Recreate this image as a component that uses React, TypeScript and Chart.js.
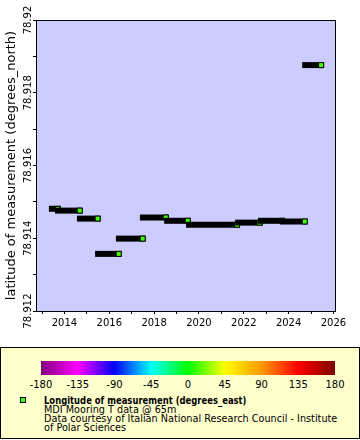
import React, { useEffect, useRef } from "react";
import { Chart, registerables } from "chart.js";

Chart.register(...registerables);

// Deployments: time span (decimal years), latitude, longitude
const deployStart = [2013.44, 2013.71, 2014.69, 2015.5, 2016.43, 2017.5, 2018.58, 2019.56, 2021.75, 2022.77, 2023.75, 2024.74];
const deployEnd = [2013.7, 2014.68, 2015.48, 2016.42, 2017.49, 2018.52, 2019.5, 2021.7, 2022.71, 2023.71, 2024.72, 2025.45];
const deployLat = [78.91481, 78.91476, 78.91454, 78.91357, 78.91399, 78.91457, 78.91448, 78.91437, 78.91443, 78.91448, 78.91446, 78.91876];
const deployLon = [11.92, 11.92, 11.92, 11.92, 11.92, 11.92, 11.92, 11.92, 11.92, 11.92, 11.92, 11.92];

const xTickValues = [2013, 2014, 2015, 2016, 2017, 2018, 2019, 2020, 2021, 2022, 2023, 2024, 2025, 2026];
const yTickValues = [78.912, 78.913, 78.914, 78.915, 78.916, 78.917, 78.918, 78.919, 78.92];
const colorbarTicks = [-180, -135, -90, -45, 0, 45, 90, 135, 180];
const paletteStops = ["#800080", "#ff00ff", "#0000ff", "#00ffff", "#00ff00", "#ffff00", "#ff9900", "#ff0000", "#800000"];

const FONT = "'DejaVu Sans', sans-serif";

function hexToRgb(h: string) {
  const n = parseInt(h.slice(1), 16);
  return [(n >> 16) & 255, (n >> 8) & 255, n & 255];
}
function lonColor(lon: number) {
  const t = Math.max(0, Math.min(1, (lon + 180) / 360)) * (paletteStops.length - 1);
  const i = Math.min(paletteStops.length - 2, Math.floor(t));
  const f = t - i;
  const a = hexToRgb(paletteStops[i]);
  const b = hexToRgb(paletteStops[i + 1]);
  const c = a.map((v, k) => Math.round(v + (b[k] - v) * f));
  return `rgb(${c[0]},${c[1]},${c[2]})`;
}

const framePlugin = {
  id: "frame",
  beforeDraw(chart: any) {
    const { ctx, chartArea } = chart;
    const { left, top, right, bottom } = chartArea;
    ctx.save();
    ctx.fillStyle = "#ccccff";
    ctx.fillRect(left, top, right - left, bottom - top);
    ctx.strokeStyle = "#000";
    ctx.lineWidth = 1;
    ctx.beginPath();
    ctx.moveTo(Math.round(left), Math.round(top) + 0.5);
    ctx.lineTo(Math.round(right) + 0.5, Math.round(top) + 0.5);
    ctx.lineTo(Math.round(right) + 0.5, Math.round(bottom));
    ctx.stroke();
    ctx.restore();
  },
};

function PlotChart() {
  const ref = useRef<HTMLCanvasElement>(null);
  useEffect(() => {
    const n = deployStart.length;
    const datasets = deployStart.map((s, i) => {
      const col = lonColor(deployLon[i]);
      return {
        label: "d" + i,
        data: [
          { x: s, y: deployLat[i] },
          { x: deployEnd[i], y: deployLat[i] },
        ],
        borderColor: "#000",
        borderWidth: 6,
        borderCapStyle: "square",
        pointRadius: [0, 3.54],
        pointStyle: "rect",
        pointBackgroundColor: col,
        pointBorderColor: "#000",
        pointBorderWidth: 1,
        order: n - i,
        tension: 0,
      };
    });
    const chart = new Chart(ref.current!, {
      type: "line",
      data: { datasets: datasets as any },
      plugins: [framePlugin],
      options: {
        animation: false,
        responsive: false,
        maintainAspectRatio: false,
        layout: { padding: { left: 0, right: 25, top: 20, bottom: 0 } },
        plugins: { legend: { display: false }, tooltip: { enabled: false } },
        scales: {
          x: {
            type: "linear",
            min: 2012.73,
            max: 2026.07,
            afterBuildTicks: (s: any) => {
              s.ticks = xTickValues.map((v) => ({ value: v }));
            },
            afterFit: (s: any) => {
              s.height = 29;
            },
            grid: { drawOnChartArea: false, tickLength: 3, color: "#000", tickColor: "#000" },
            border: { display: true, color: "#000", width: 1 },
            ticks: {
              autoSkip: false,
              maxRotation: 0,
              minRotation: 0,
              padding: 3,
              color: "#000",
              font: { family: FONT, size: 10 },
              callback: (v: any) => (Number(v) % 2 === 0 ? String(v) : ""),
            },
          },
          y: {
            type: "linear",
            min: 78.912,
            max: 78.92,
            afterBuildTicks: (s: any) => {
              s.ticks = yTickValues.map((v) => ({ value: v }));
            },
            afterFit: (s: any) => {
              s.width = 36;
            },
            grid: { drawOnChartArea: false, tickLength: 3, color: "#000", tickColor: "#000" },
            border: { display: true, color: "#000", width: 1 },
            title: {
              display: true,
              text: "latitude of measurement (degrees_north)",
              color: "#000",
              font: { family: FONT, size: 13 },
              padding: { top: 4, bottom: 0 },
            },
            ticks: {
              autoSkip: false,
              minRotation: 90,
              maxRotation: 90,
              crossAlign: "center",
              padding: -13,
              color: "#000",
              font: { family: FONT, size: 10 },
              callback: (v: any) => {
                const k = Math.round(Number(v) * 1000);
                return k % 2 === 0 ? String(Number((k / 1000).toFixed(3))) : "";
              },
            },
          },
        },
      } as any,
    });
    return () => chart.destroy();
  }, []);
  return <canvas ref={ref} width={360} height={340} style={{ position: "absolute", left: 0, top: 0, width: 360, height: 340 }} />;
}

function Legend() {
  const barLeft = 41;
  const barWidth = 294;
  const grad = `linear-gradient(to right, ${paletteStops.join(", ")})`;
  const markerColor = lonColor(deployLon[0]);
  const lineStyle: React.CSSProperties = { position: "absolute", left: 43, whiteSpace: "nowrap", fontFamily: FONT, fontSize: 9.7, lineHeight: "9px", color: "#000" };
  return (
    <div style={{ position: "absolute", left: 0, top: 347, width: 360, height: 92, boxSizing: "border-box", border: "1px solid #000", background: "#ffffcc" }}>
      <div style={{ position: "absolute", left: barLeft - 1, top: 13, width: barWidth, height: 14, background: grad }} />
      {colorbarTicks.map((t, i) => (
        <div key={t} style={{ position: "absolute", left: barLeft - 1 + (i * barWidth) / (colorbarTicks.length - 1), top: 32, transform: "translateX(-50%)", fontFamily: FONT, fontSize: 10, lineHeight: "10px", color: "#000", whiteSpace: "nowrap" }}>
          {t}
        </div>
      ))}
      <div style={{ position: "absolute", left: 19, top: 49, width: 4, height: 4, border: "1px solid #000", background: markerColor }} />
      <div style={{ ...lineStyle, top: 48, fontWeight: "bold", transform: "scaleX(0.87)", transformOrigin: "0 0" }}>
        Longitude of measurement (degrees_east)
      </div>
      <div style={{ ...lineStyle, top: 57 }}>MDI Mooring T data @ 65m</div>
      <div style={{ ...lineStyle, top: 66 }}>Data courtesy of Italian National Research Council - Institute</div>
      <div style={{ ...lineStyle, top: 75 }}>of Polar Sciences</div>
    </div>
  );
}

export default function App() {
  return (
    <div style={{ position: "absolute", left: 0, top: 0, width: 360, height: 440, background: "#fff" }}>
      <PlotChart />
      <Legend />
    </div>
  );
}
